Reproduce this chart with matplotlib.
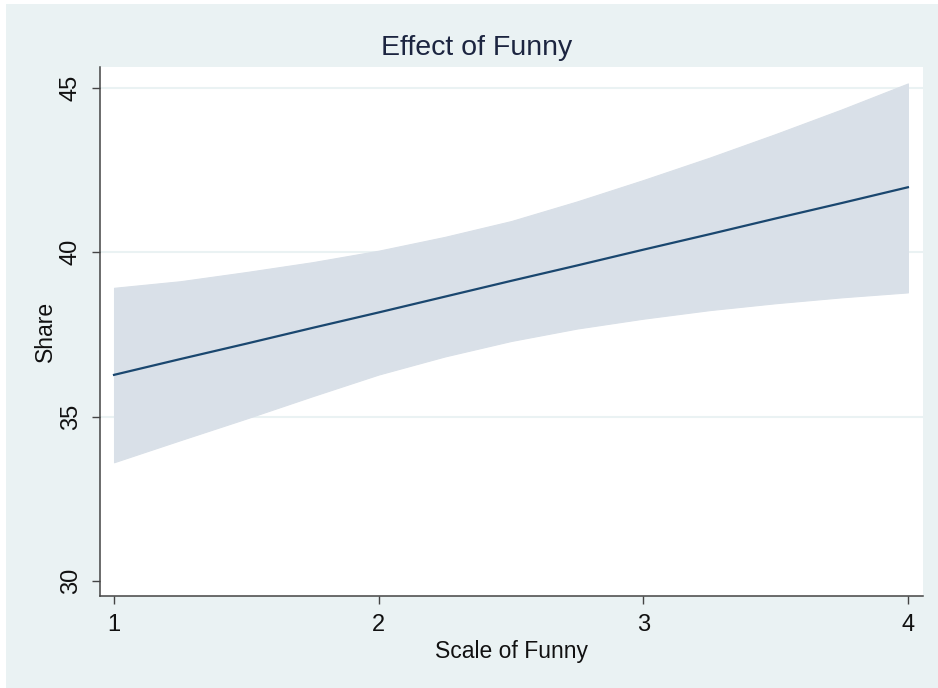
import matplotlib
matplotlib.use("Agg")
import matplotlib.pyplot as plt
from matplotlib.patches import Rectangle

# Data
funny = [1.0, 1.25, 1.5, 1.75, 2.0, 2.25, 2.5, 2.75, 3.0, 3.25, 3.5, 3.75, 4.0]
share_fit = [36.27, 36.75, 37.22, 37.70, 38.17, 38.65, 39.13, 39.60, 40.08, 40.55, 41.03, 41.50, 41.98]
share_upper = [38.92, 39.12, 39.40, 39.70, 40.05, 40.47, 40.95, 41.55, 42.20, 42.88, 43.60, 44.35, 45.14]
share_lower = [33.61, 34.28, 34.94, 35.62, 36.28, 36.83, 37.30, 37.68, 37.98, 38.24, 38.45, 38.63, 38.78]
x_ticks = [1, 2, 3, 4]
y_ticks = [30, 35, 40, 45]
title = "Effect of Funny"
x_label = "Scale of Funny"
y_label = "Share"

BG = "#EAF2F3"
plt.rcParams['font.family'] = ['Liberation Sans', 'DejaVu Sans']

W, H = 938, 688
fig = plt.figure(figsize=(W / 100, H / 100), dpi=100, facecolor="white")
fig.patches.append(Rectangle((6 / W, 0), 1 - 6 / W, 1 - 4 / H, transform=fig.transFigure,
                             facecolor=BG, edgecolor="none", zorder=-10))

left, right, top, bottom = 100, 923, 67, 596
ax = fig.add_axes([left / W, 1 - bottom / H, (right - left) / W, (bottom - top) / H])
ax.set_facecolor("white")

ax.fill_between(funny, share_lower, share_upper, color="#D9E0E8", edgecolor="#D9E0E8",
                linewidth=0.8, zorder=2)
ax.plot(funny, share_fit, color="#1A476F", linewidth=1.6, zorder=3)

ax.set_xlim(0.947, 4.057)
ax.set_ylim(29.54, 45.64)
ax.set_xticks(x_ticks)
ax.set_yticks(y_ticks)
ax.set_xticklabels([str(t) for t in x_ticks])
ax.set_yticklabels([str(t) for t in y_ticks], rotation=90, va="center")

for g in [35, 40, 45]:
    ax.axhline(g, color=BG, linewidth=1.5, zorder=1)

for s in ["top", "right"]:
    ax.spines[s].set_visible(False)
for s in ["left", "bottom"]:
    ax.spines[s].set_color("#444444")
    ax.spines[s].set_linewidth(1.1)

ax.tick_params(axis="both", direction="out", length=6, width=1.0, color="#444444",
               labelsize=17, labelcolor="#111111", pad=7)

ax.set_xlabel(x_label, fontsize=16.5, color="#111111", labelpad=3)
ax.set_ylabel(y_label, fontsize=16.5, color="#111111", labelpad=2)

fig.text(477 / W, 1 - 48 / H, title, ha="center", va="center", fontsize=20.5, color="#1c2540")

fig.savefig("out.png", dpi=100, facecolor=fig.get_facecolor())
